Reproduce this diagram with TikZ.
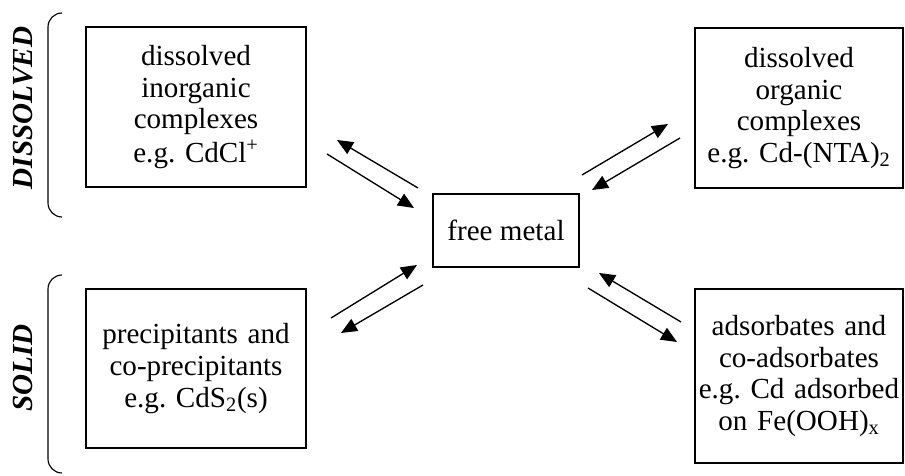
\documentclass[tikz,border=0pt]{standalone}
\usepackage{fontspec}
\setmainfont{Liberation Serif}
\usepackage{tikz}
\usetikzlibrary{arrows.meta,positioning,calc}

\begin{document}
\begin{tikzpicture}[
  font=\fontsize{20.7pt}{19.8pt}\selectfont,
  specbox/.style={draw, line width=0.8pt, inner sep=0pt, execute at begin node={\centering\frenchspacing}},
  metalbox/.style={draw, line width=0.8pt, inner sep=0pt, minimum width=3.65cm, minimum height=1.825cm},
  phaselab/.style={rotate=90, font=\fontsize{20.7pt}{19.8pt}\selectfont\bfseries\itshape},
  rxn/.style={line width=0.95pt, -{Triangle[length=0.4cm, width=0.34cm]}},
  phasebracket/.style={line width=0.8pt, rounded corners=0.35cm}
]
\useasboundingbox (0,0) rectangle (22.625,11.9);

% Species.
\node[metalbox] (metal) at (12.65,6.1375) {free metal};
\node[specbox, text width=5.5cm, minimum height=4.0cm] (inorg) at (4.9,9.225) {dissolved\\[2.7pt]inorganic\\[2.7pt]complexes\\[2.7pt]e.g. CdCl\textsuperscript{+}};
\node[specbox, text width=5.5cm, minimum height=3.975cm] (precip) at (4.9,2.6875) {precipitants and\\[2.7pt]co-precipitants\\[2.7pt]e.g. CdS\textsubscript{2}(s)};
\node[specbox, text width=5.2cm, minimum height=4.0cm] (org) at (19.975,9.2) {dissolved\\[2.7pt]organic\\[2.7pt]complexes\\[2.7pt]e.g. Cd-(NTA)\textsubscript{2}};
\node[specbox, text width=5.2cm, minimum height=4.35cm] (adsorb) at (19.975,2.5) {adsorbates and\\[2.7pt]co-adsorbates\\[2.7pt]e.g. Cd adsorbed\\[2.7pt]on Fe(OOH)\textsubscript{x}};

% Phase labels.
\node[phaselab] (dissolvedlab) at (0.575,9.2) {DISSOLVED};
\node[phaselab] (solidlab) at (0.575,2.7) {SOLID};
\draw[phasebracket] (1.55,11.575) -- (1.2,11.575) -- (1.2,6.475) -- (1.55,6.475);
\draw[phasebracket] (1.55,5.025) -- (1.2,5.025) -- (1.2,0.075) -- (1.55,0.075);

% Arrow ends.
\coordinate (inorgA) at (10.45,7.2);   \coordinate (inorgB) at (8.425,8.4);
\coordinate (inorgC) at (8.175,8.05);  \coordinate (inorgD) at (10.35,6.7);
\coordinate (orgA) at (14.55,7.525);   \coordinate (orgB) at (16.7,8.8);
\coordinate (orgC) at (17.0,8.45);     \coordinate (orgD) at (14.8,7.15);
\coordinate (precipA) at (8.275,3.95); \coordinate (precipB) at (10.425,5.275);
\coordinate (precipC) at (10.575,4.775); \coordinate (precipD) at (8.525,3.575);
\coordinate (adsorbA) at (17.025,3.85); \coordinate (adsorbB) at (14.975,5.075);
\coordinate (adsorbC) at (14.7,4.7);   \coordinate (adsorbD) at (16.925,3.35);

% Equilibria.
\draw[rxn] (inorgA) -- (inorgB);
\draw[rxn] (inorgC) -- (inorgD);
\draw[rxn] (orgA) -- (orgB);
\draw[rxn] (orgC) -- (orgD);
\draw[rxn] (precipA) -- (precipB);
\draw[rxn] (precipC) -- (precipD);
\draw[rxn] (adsorbA) -- (adsorbB);
\draw[rxn] (adsorbC) -- (adsorbD);
\end{tikzpicture}
\end{document}
